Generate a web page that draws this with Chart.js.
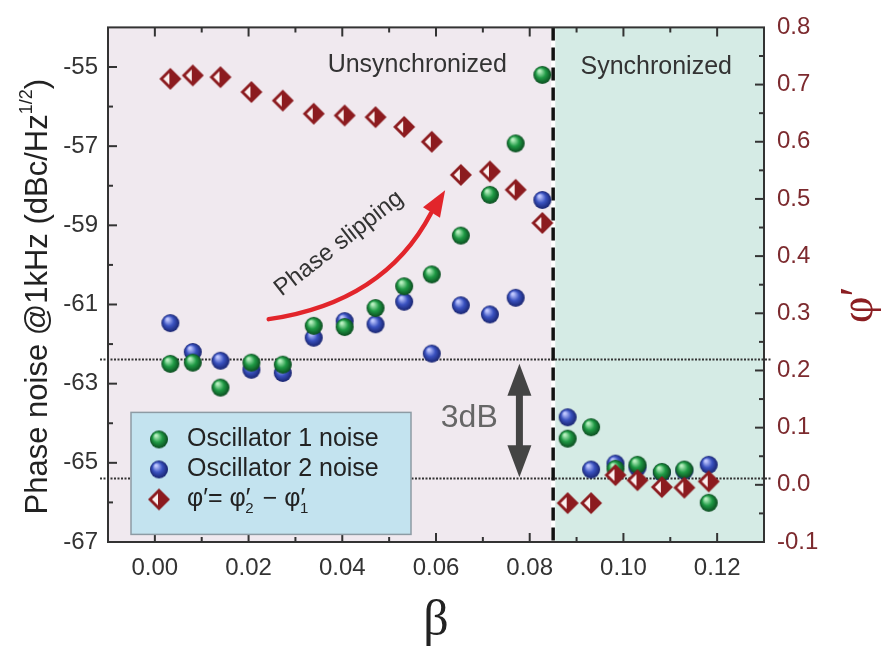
<!DOCTYPE html>
<html>
<head>
<meta charset="utf-8">
<script src="https://cdn.jsdelivr.net/npm/chart.js@4.4.1/dist/chart.umd.min.js"></script>
<style>
  html, body { margin: 0; padding: 0; background: #fff; }
  #wrap { width: 881px; height: 652px; }
</style>
</head>
<body>
<div id="wrap"><canvas id="myChart"></canvas></div>
<script>
// coupling strength, shared by all three series
const beta = [0.0033, 0.0081, 0.0140, 0.0206, 0.0273, 0.0339, 0.0405, 0.0471, 0.0532, 0.0591, 0.0653,
  0.0715, 0.0770, 0.0827, 0.0881, 0.0931, 0.0983, 0.1030, 0.1082, 0.1130, 0.1182];
const osc1Noise = [-62.50, -62.47, -63.10, -62.47, -62.52, -61.54, -61.57, -61.09, -60.54, -60.24, -59.26,
  -58.23, -56.93, -55.20, -64.39, -64.10, -65.15, -65.05, -65.23, -65.17, -66.01];
const osc2Noise = [-61.47, -62.20, -62.42, -62.65, -62.73, -61.84, -61.42, -61.50, -60.93, -62.24, -61.02,
  -61.25, -60.83, -58.36, -63.85, -65.17, -65.02, -65.12, -65.25, -65.20, -65.05];
const phaseDiff = [0.710, 0.716, 0.713, 0.687, 0.672, 0.649, 0.646, 0.643, 0.626, 0.600, 0.542,
  0.548, 0.516, 0.458, -0.032, -0.032, 0.017, 0.008, -0.004, -0.005, 0.006];

const betaTicks = [0.00, 0.02, 0.04, 0.06, 0.08, 0.10, 0.12];
const noiseTicks = [-67, -65, -63, -61, -59, -57, -55];
const phaseTicks = [-0.1, 0.0, 0.1, 0.2, 0.3, 0.4, 0.5, 0.6, 0.7, 0.8];

const syncEdge = 0.085;          // beta where locking starts
const noiseLevels = [-62.37, -65.39]; // dotted reference levels, 3 dB apart

Chart.defaults.font.family = '"Liberation Sans", Arial, sans-serif';

function makeBall(light, base, dark) {
  const r = 9;
  const c = document.createElement('canvas');
  c.width = c.height = 2 * r + 2;
  const g = c.getContext('2d');
  const grad = g.createRadialGradient(r - 2, r - 3, 1, r + 1, r + 1, r);
  grad.addColorStop(0, light);
  grad.addColorStop(0.5, base);
  grad.addColorStop(1, dark);
  g.fillStyle = grad;
  g.beginPath();
  g.arc(r + 1, r + 1, r, 0, Math.PI * 2);
  g.fill();
  return c;
}

function makeDiamond() {
  const h = 11;
  const c = document.createElement('canvas');
  c.width = c.height = 2 * h + 2;
  const g = c.getContext('2d');
  const m = h + 1;
  g.fillStyle = '#8c1b1f';
  g.beginPath();
  g.moveTo(m, m - h); g.lineTo(m + h, m); g.lineTo(m, m + h); g.lineTo(m - h, m);
  g.closePath();
  g.fill();
  g.fillStyle = '#fbf0ef';
  g.beginPath();
  g.moveTo(m - 1, m - 6); g.lineTo(m - 1, m + 6); g.lineTo(m - 7, m);
  g.closePath();
  g.fill();
  return c;
}

const greenBall = makeBall('#b8f0c0', '#1f9a45', '#0a4a1e');
const blueBall = makeBall('#c0c8ff', '#3a52c0', '#18236e');
const redDiamond = makeDiamond();

function pts(ys) {
  return beta.map((b, i) => ({ x: b, y: ys[i] }));
}

const decor = {
  id: 'decor',
  beforeDatasetsDraw(chart) {
    const { ctx, chartArea: a, scales: { x, y } } = chart;
    const xe = x.getPixelForValue(syncEdge);
    ctx.save();
    ctx.fillStyle = '#f0e9ef';
    ctx.fillRect(a.left, a.top, xe - a.left, a.bottom - a.top);
    ctx.fillStyle = '#d5ebe5';
    ctx.fillRect(xe + 2, a.top, a.right - xe - 2, a.bottom - a.top);
    ctx.fillStyle = '#ffffff';
    ctx.fillRect(xe - 2, a.top, 4, a.bottom - a.top);

    // dotted noise levels
    ctx.strokeStyle = '#333';
    ctx.lineWidth = 2;
    ctx.setLineDash([2, 1.5]);
    noiseLevels.forEach(v => {
      const py = Math.round(y.getPixelForValue(v)) + 0.5;
      ctx.beginPath();
      ctx.moveTo(a.left - 8, py);
      ctx.lineTo(a.right + 8, py);
      ctx.stroke();
    });

    // dashed sync boundary
    ctx.strokeStyle = '#111';
    ctx.lineWidth = 3.5;
    ctx.setLineDash([13, 7]);
    ctx.beginPath();
    ctx.moveTo(xe, a.top);
    ctx.lineTo(xe, a.bottom);
    ctx.stroke();
    ctx.restore();
  },
  afterDatasetsDraw(chart) {
    const { ctx, chartArea: a, scales: { x, y, y1 } } = chart;
    const P = (b, v) => [x.getPixelForValue(b), y.getPixelForValue(v)];
    ctx.save();

    // frame
    ctx.strokeStyle = '#333';
    ctx.lineWidth = 2;
    ctx.strokeRect(a.left, a.top, a.right - a.left, a.bottom - a.top);

    // inward tick marks
    ctx.lineWidth = 2;
    x.ticks.forEach(t => {
      const px = x.getPixelForValue(t.value);
      if (px < a.left + 2 || px > a.right - 2) return;
      const len = Math.round(t.value * 100) % 2 === 0 ? 9 : 5;
      ctx.beginPath();
      ctx.moveTo(px, a.bottom); ctx.lineTo(px, a.bottom - len);
      ctx.moveTo(px, a.top); ctx.lineTo(px, a.top + len);
      ctx.stroke();
    });
    y.ticks.forEach(t => {
      const py = y.getPixelForValue(t.value);
      if (py < a.top + 2 || py > a.bottom - 2) return;
      const len = Math.abs(Math.round(t.value)) % 2 === 1 ? 9 : 5;
      ctx.beginPath();
      ctx.moveTo(a.left, py); ctx.lineTo(a.left + len, py);
      ctx.stroke();
    });
    y1.ticks.forEach(t => {
      const py = y1.getPixelForValue(t.value);
      if (py < a.top + 2 || py > a.bottom - 2) return;
      const len = Math.round(t.value * 100) % 10 === 0 ? 9 : 5;
      ctx.beginPath();
      ctx.moveTo(a.right, py); ctx.lineTo(a.right - len, py);
      ctx.stroke();
    });

    // region labels
    ctx.fillStyle = '#333';
    ctx.font = '25px "Liberation Sans", Arial';
    ctx.textAlign = 'center';
    ctx.textBaseline = 'middle';
    let p = P(0.056, -54.96);
    ctx.fillText('Unsynchronized', p[0], p[1]);
    p = P(0.107, -55.0);
    ctx.fillText('Synchronized', p[0], p[1]);

    // phase slipping arrow
    const s0 = P(0.0243, -61.37), c0 = P(0.0489, -60.95), e0 = P(0.0589, -58.70), tip = P(0.0615, -58.20);
    ctx.strokeStyle = '#e2252b';
    ctx.lineWidth = 4.5;
    ctx.lineCap = 'round';
    ctx.beginPath();
    ctx.moveTo(s0[0], s0[1]);
    ctx.quadraticCurveTo(c0[0], c0[1], e0[0], e0[1]);
    ctx.stroke();
    const ang = Math.atan2(tip[1] - e0[1], tip[0] - e0[0]);
    ctx.fillStyle = '#e2252b';
    ctx.beginPath();
    ctx.moveTo(tip[0] + 4 * Math.cos(ang), tip[1] + 4 * Math.sin(ang));
    ctx.lineTo(tip[0] - 22 * Math.cos(ang) + 10 * Math.sin(ang), tip[1] - 22 * Math.sin(ang) - 10 * Math.cos(ang));
    ctx.lineTo(tip[0] - 22 * Math.cos(ang) - 10 * Math.sin(ang), tip[1] - 22 * Math.sin(ang) + 10 * Math.cos(ang));
    ctx.closePath();
    ctx.fill();

    p = P(0.0393, -59.46);
    ctx.save();
    ctx.translate(p[0], p[1]);
    ctx.rotate(-38 * Math.PI / 180);
    ctx.fillStyle = '#333';
    ctx.font = '24px "Liberation Sans", Arial';
    ctx.fillText('Phase slipping', 0, 0);
    ctx.restore();

    // 3 dB double arrow
    const ax = x.getPixelForValue(0.0778);
    const yt = y.getPixelForValue(noiseLevels[0]) + 5;
    const yb = y.getPixelForValue(noiseLevels[1]) - 1;
    ctx.fillStyle = '#444';
    ctx.fillRect(ax - 3.5, yt + 28, 7, yb - yt - 56);
    ctx.beginPath();
    ctx.moveTo(ax, yt); ctx.lineTo(ax + 12, yt + 32); ctx.lineTo(ax - 12, yt + 32);
    ctx.closePath(); ctx.fill();
    ctx.beginPath();
    ctx.moveTo(ax, yb); ctx.lineTo(ax + 12, yb - 32); ctx.lineTo(ax - 12, yb - 32);
    ctx.closePath(); ctx.fill();
    p = P(0.0671, -63.86);
    ctx.fillStyle = '#666';
    ctx.font = '32px "Liberation Sans", Arial';
    ctx.fillText('3dB', p[0], p[1]);

    // legend box
    const lx = a.left + 23, ly = a.top + 385, lw = 280, lh = 122;
    ctx.fillStyle = '#c3e3ef';
    ctx.fillRect(lx, ly, lw, lh);
    ctx.strokeStyle = '#8d9ba4';
    ctx.lineWidth = 1.5;
    ctx.strokeRect(lx, ly, lw, lh);
    const items = chart.data.datasets;
    ctx.textAlign = 'left';
    ctx.fillStyle = '#222';
    ctx.font = '25px "Liberation Sans", Arial';
    items.forEach((ds, i) => {
      const cy = ly + 27 + i * 30;
      const img = ds.pointStyle;
      ctx.drawImage(img, lx + 28 - img.width / 2, cy - img.height / 2);
      if (i < 2) {
        ctx.fillText(ds.label, lx + 56, cy);
      } else {
        let tx = lx + 56;
        const parts = [['φ′= φ′', 0], ['2', 1], [' − φ′', 0], ['1', 1]];
        parts.forEach(([s, sub]) => {
          ctx.font = sub ? '15px "Liberation Sans", Arial' : '25px "Liberation Sans", Arial';
          const w = ctx.measureText(s).width;
          ctx.fillText(s, sub ? tx - 5 : tx, sub ? cy + 9 : cy);
          tx += sub ? w - 3 : w;
        });
      }
    });

    // left axis title with superscript
    ctx.save();
    ctx.translate(38, (a.top + a.bottom) / 2 + 12);
    ctx.rotate(-Math.PI / 2);
    ctx.fillStyle = '#222';
    const main = 'Phase noise @1kHz (dBc/Hz';
    ctx.font = '31px "Liberation Sans", Arial';
    const wm = ctx.measureText(main).width;
    const we = ctx.measureText(')').width;
    ctx.font = '18px "Liberation Sans", Arial';
    const ws = ctx.measureText('1/2').width;
    let tx = -(wm + ws + we) / 2;
    ctx.font = '31px "Liberation Sans", Arial';
    ctx.fillText(main, tx, 0);
    tx += wm;
    ctx.font = '18px "Liberation Sans", Arial';
    ctx.fillText('1/2', tx, -11);
    tx += ws;
    ctx.font = '31px "Liberation Sans", Arial';
    ctx.fillText(')', tx, 0);
    ctx.restore();

    // right axis title
    ctx.save();
    ctx.translate(860, (a.top + a.bottom) / 2 + 20);
    ctx.rotate(-Math.PI / 2);
    ctx.fillStyle = '#8b1e22';
    ctx.font = '46px "Liberation Serif", "Times New Roman", serif';
    ctx.textAlign = 'center';
    ctx.fillText('φ′', 0, 0);
    ctx.restore();

    ctx.restore();
  }
};

const ctx = document.getElementById('myChart').getContext('2d');
// eslint-disable-next-line
const myChart = new Chart(ctx, {
  type: 'scatter',
  data: {
    datasets: [
      { label: 'Oscillator 1 noise', data: pts(osc1Noise), yAxisID: 'y', pointStyle: greenBall, order: 1 },
      { label: 'Oscillator 2 noise', data: pts(osc2Noise), yAxisID: 'y', pointStyle: blueBall, order: 2 },
      { label: 'φ′', data: pts(phaseDiff), yAxisID: 'y1', pointStyle: redDiamond, order: 0 },
    ],
  },
  options: {
    responsive: true,
    maintainAspectRatio: false,
    devicePixelRatio: 1,
    animation: false,
    layout: { padding: { top: 25, left: 0, right: 0, bottom: 0 } },
    plugins: { legend: { display: false }, tooltip: { enabled: false } },
    scales: {
      x: {
        type: 'linear',
        min: -0.01,
        max: 0.13,
        grid: { display: false, drawTicks: false },
        border: { display: false },
        ticks: {
          stepSize: 0.01,
          autoSkip: false,
          maxRotation: 0,
          padding: 12,
          color: '#333',
          font: { size: 24 },
          callback: (v) => {
            const k = Math.round(v * 100) / 100;
            return betaTicks.includes(k) ? k.toFixed(2) : '';
          },
        },
        title: {
          display: true,
          text: 'β',
          color: '#222',
          font: { family: '"Liberation Serif", "Times New Roman", serif', size: 50 },
          padding: { top: 0, bottom: 0 },
        },
        afterFit: (s) => { s.height = 110; },
      },
      y: {
        type: 'linear',
        position: 'left',
        min: -67,
        max: -54,
        grid: { display: false, drawTicks: false },
        border: { display: false },
        ticks: {
          stepSize: 1,
          autoSkip: false,
          padding: 10,
          color: '#333',
          font: { size: 24 },
          callback: (v) => (noiseTicks.includes(Math.round(v)) ? String(Math.round(v)) : ''),
        },
        afterFit: (s) => { s.width = 108; },
      },
      y1: {
        type: 'linear',
        position: 'right',
        min: -0.1,
        max: 0.8,
        grid: { display: false, drawTicks: false },
        border: { display: false },
        ticks: {
          stepSize: 0.05,
          autoSkip: false,
          padding: 13,
          color: '#7c2a2e',
          font: { size: 24 },
          callback: (v) => {
            const k = Math.round(v * 100) / 100;
            return phaseTicks.includes(k) ? k.toFixed(1) : '';
          },
        },
        afterFit: (s) => { s.width = 117; },
      },
    },
  },
  plugins: [decor],
});
</script>
</body>
</html>
